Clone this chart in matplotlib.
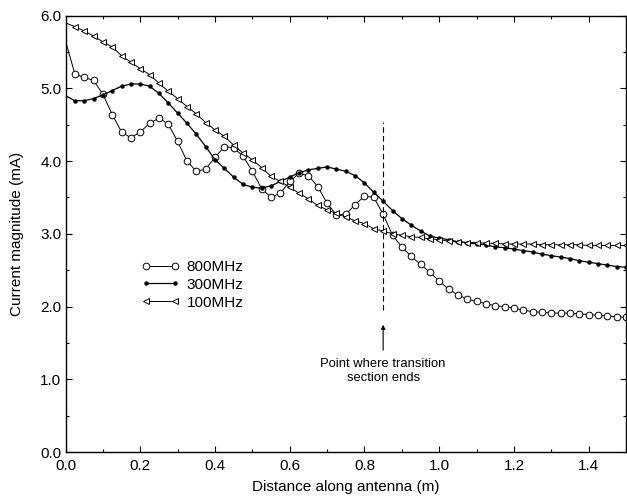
import numpy as np
import matplotlib
matplotlib.use("Agg")
import matplotlib.pyplot as plt
from matplotlib.ticker import MultipleLocator

plt.rcParams["font.family"] = ["Liberation Sans", "DejaVu Sans"]

# sample positions along the antenna (m), every 25 mm
distance = np.arange(61) * 0.025

# current magnitude (mA) at each sample
cur_800 = [5.65, 5.20, 5.15, 5.11, 4.92, 4.64, 4.40, 4.32, 4.40, 4.52,
           4.59, 4.51, 4.27, 4.00, 3.86, 3.89, 4.05, 4.20, 4.18, 4.07,
           3.86, 3.62, 3.50, 3.56, 3.72, 3.83, 3.80, 3.65, 3.42, 3.26,
           3.27, 3.40, 3.52, 3.50, 3.27, 2.98, 2.82, 2.69, 2.58, 2.47,
           2.35, 2.24, 2.16, 2.10, 2.07, 2.04, 2.01, 2.00, 1.98, 1.95,
           1.93, 1.92, 1.91, 1.91, 1.91, 1.90, 1.89, 1.88, 1.87, 1.86,
           1.85]
cur_300 = [4.90, 4.83, 4.83, 4.86, 4.91, 4.97, 5.03, 5.06, 5.06, 5.03,
           4.93, 4.80, 4.66, 4.52, 4.37, 4.20, 4.02, 3.90, 3.78, 3.68,
           3.64, 3.63, 3.66, 3.72, 3.78, 3.84, 3.88, 3.90, 3.92, 3.89,
           3.86, 3.80, 3.70, 3.57, 3.45, 3.32, 3.21, 3.12, 3.04, 2.97,
           2.94, 2.92, 2.89, 2.88, 2.86, 2.85, 2.82, 2.81, 2.79, 2.77,
           2.75, 2.72, 2.70, 2.68, 2.66, 2.63, 2.61, 2.59, 2.57, 2.55,
           2.54]
cur_100 = [5.90, 5.85, 5.79, 5.72, 5.64, 5.57, 5.45, 5.36, 5.27, 5.19,
           5.07, 4.96, 4.86, 4.75, 4.65, 4.53, 4.43, 4.34, 4.22, 4.11,
           4.02, 3.91, 3.79, 3.72, 3.64, 3.56, 3.48, 3.39, 3.33, 3.28,
           3.23, 3.18, 3.14, 3.07, 3.04, 3.00, 2.98, 2.96, 2.95, 2.93,
           2.92, 2.90, 2.89, 2.88, 2.88, 2.87, 2.87, 2.86, 2.86, 2.86,
           2.86, 2.85, 2.85, 2.85, 2.85, 2.85, 2.84, 2.84, 2.84, 2.84,
           2.84]

transition_end = 0.85

fig = plt.figure(figsize=(6.27, 4.97), dpi=100)
ax = fig.add_axes([0.1045, 0.0905, 0.894, 0.878])

# the feed point itself carries no marker
skip_feed = slice(1, None)
l800, = ax.plot(distance, cur_800, color="black", lw=0.7, marker="o",
                ms=4.8, mfc="white", mec="black", mew=0.7,
                markevery=skip_feed, label="800MHz")
l300, = ax.plot(distance, cur_300, color="black", lw=0.9, marker="o",
                ms=2.2, mfc="black", mec="black",
                markevery=skip_feed, label="300MHz")
l100, = ax.plot(distance, cur_100, color="black", lw=0.7, marker="<",
                ms=4.8, mfc="white", mec="black", mew=0.7,
                markevery=skip_feed, label="100MHz")

ax.set_xlim(0, 1.5)
ax.set_ylim(0, 6)
ax.xaxis.set_major_locator(MultipleLocator(0.2))
ax.xaxis.set_minor_locator(MultipleLocator(0.1))
ax.yaxis.set_major_locator(MultipleLocator(1.0))
ax.yaxis.set_minor_locator(MultipleLocator(0.5))
ax.xaxis.set_major_formatter(plt.FormatStrFormatter("%.1f"))
ax.yaxis.set_major_formatter(plt.FormatStrFormatter("%.1f"))
ax.tick_params(which="both", direction="in", top=True, right=True,
               width=0.8, labelsize=11)
ax.tick_params(which="major", length=4)
ax.tick_params(which="minor", length=2)
ax.tick_params(axis="x", pad=5)
ax.tick_params(axis="y", pad=3)
for s in ax.spines.values():
    s.set_linewidth(1.0)

ax.set_xlabel("Distance along antenna (m)", fontsize=11, labelpad=5)
ax.set_ylabel("Current magnitude (mA)", fontsize=11, labelpad=12)

ax.legend(handles=[l800, l300, l100], loc="upper left",
          bbox_to_anchor=(0.136, 0.44), frameon=False, numpoints=2,
          fontsize=11, handlelength=2.5, handletextpad=0.45,
          labelspacing=0.25, borderpad=0, borderaxespad=0)

# marker for the end of the transition section
ax.vlines(transition_end, 1.95, 4.54, colors="black", lw=0.8,
          linestyles=(0, (5, 3)))
ax.annotate("", xy=(transition_end, 1.75), xytext=(transition_end, 1.40),
            arrowprops=dict(arrowstyle="-|>", lw=0.8, color="black",
                            mutation_scale=6, shrinkA=0, shrinkB=0))
ax.text(transition_end, 1.11, "Point where transition\nsection ends",
        ha="center", va="center", fontsize=9.4, linespacing=1.2)

fig.savefig("out.png", dpi=100)
